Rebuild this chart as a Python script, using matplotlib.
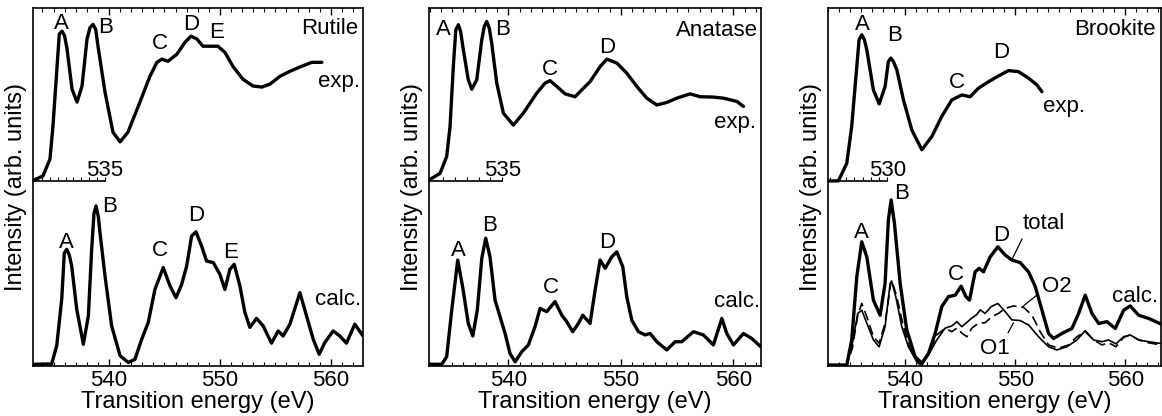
import numpy as np
import matplotlib.pyplot as plt
from matplotlib.ticker import MultipleLocator

plt.rcParams['font.family'] = ['Liberation Sans', 'DejaVu Sans']
plt.rcParams['font.size'] = 16

# energies in eV, intensities in arb. units
rutile_exp_e = [533.1, 534.05, 534.68, 534.95, 535.32, 535.52, 535.77, 536.0, 536.22, 536.67,
                537.12, 537.57, 538.02, 538.29, 538.56, 538.8, 539.01, 539.64, 540.36, 541.0,
                541.71, 542.79, 543.69, 544.32, 544.77, 545.32, 546.13, 546.85, 547.39, 547.93,
                548.47, 549.1, 549.82, 550.45, 551.17, 552.07, 552.97, 553.78, 554.5, 555.41,
                556.31, 557.21, 558.29, 559.19]
rutile_exp_i = [0, 1.4, 6.1, 15.3, 32.0, 41.0, 41.8, 40.5, 36.8, 25.6,
                22.0, 26.5, 39.6, 42.8, 43.7, 42.3, 37.6, 24.8, 13.6, 10.9,
                13.6, 22.0, 29.2, 33.1, 34.0, 33.4, 35.4, 38.7, 40.4, 39.6,
                37.6, 37.6, 37.6, 35.9, 32.0, 28.4, 26.5, 26.2, 27.0, 29.2,
                30.6, 31.8, 33.1, 33.1]
rutile_calc_e = [533.1, 534.83, 535.29, 535.74, 535.97, 536.19, 536.42, 536.64, 537.09, 537.69,
                 538.14, 538.44, 538.65, 538.83, 539.04, 539.19, 539.64, 540.24, 541.0, 541.74,
                 542.34, 542.95, 543.54, 544.14, 544.89, 545.5, 546.04, 546.55, 547.0, 547.45,
                 547.84, 548.35, 548.8, 549.4, 550.0, 550.45, 550.9, 551.29, 551.8, 552.25,
                 552.7, 553.3, 553.9, 554.65, 555.25, 555.7, 556.31, 557.21, 557.81, 558.41,
                 558.95, 559.46, 560.21, 560.81, 561.41, 562.16, 562.9]
rutile_calc_i = [0.5, 0.6, 5.7, 18.7, 31.5, 32.6, 31.0, 27.9, 15.9, 6.1,
                 14.0, 32.6, 42.7, 44.7, 41.7, 37.2, 25.2, 11.2, 2.9, 1.0,
                 1.9, 7.5, 12.2, 21.4, 27.5, 22.4, 19.1, 22.8, 27.9, 36.3,
                 37.5, 33.5, 29.3, 28.9, 25.6, 21.4, 27.0, 28.4, 22.4, 15.0,
                 10.8, 13.3, 11.2, 6.4, 9.8, 8.4, 11.7, 20.5, 14.0, 7.5,
                 3.3, 6.6, 9.8, 8.4, 6.4, 11.7, 8.4]

anatase_exp_e = [532.97, 533.93, 534.52, 534.82, 535.11, 535.33, 535.56, 535.76, 536.0, 536.44,
                 536.75, 537.19, 537.64, 537.86, 538.08, 538.3, 538.52, 538.97, 539.56, 540.44,
                 541.33, 542.52, 543.26, 543.7, 544.3, 545.04, 545.93, 546.52, 547.26, 548.15,
                 548.75, 549.64, 550.52, 551.41, 552.3, 553.19, 554.08, 554.97, 556.15, 557.04,
                 558.22, 559.11, 560.3, 560.89]
anatase_exp_i = [0.3, 2.1, 6.8, 15.2, 31.9, 42.2, 43.6, 41.7, 36.6, 28.2,
                 25.6, 28.2, 39.4, 43.1, 44.5, 42.7, 38.5, 27.3, 18.9, 15.6,
                 18.9, 24.5, 27.3, 28.0, 26.4, 24.3, 23.5, 25.4, 27.7, 31.9,
                 34.0, 32.9, 30.1, 26.4, 23.1, 21.2, 21.9, 23.1, 24.3, 23.5,
                 23.4, 23.1, 22.2, 20.8]
anatase_calc_e = [533.04, 534.08, 534.52, 534.97, 535.5, 535.95, 536.44, 536.84, 537.24, 537.64,
                  537.99, 538.37, 538.82, 539.26, 539.71, 540.15, 540.6, 541.19, 541.78, 542.37,
                  542.82, 543.41, 544.15, 544.75, 545.19, 545.72, 546.22, 546.61, 547.26, 547.71,
                  548.15, 548.6, 549.19, 549.64, 550.17, 550.52, 550.97, 551.56, 552.15, 552.6,
                  553.19, 554.08, 554.82, 555.41, 556.44, 557.33, 558.22, 558.97, 559.41, 560.0,
                  560.89, 561.63, 562.43]
anatase_calc_i = [0.5, 0.5, 2.6, 15.6, 29.6, 21.9, 11.9, 8.4, 15.6, 30.1,
                  35.7, 30.5, 18.4, 13.8, 9.1, 3.5, 1.2, 4.0, 5.9, 11.0,
                  16.1, 15.2, 18.0, 14.2, 12.4, 9.6, 11.9, 14.2, 11.9, 21.2,
                  29.6, 27.3, 30.5, 31.9, 27.7, 19.4, 12.8, 9.6, 8.7, 9.1,
                  6.8, 4.5, 6.8, 6.8, 9.6, 8.7, 5.9, 13.3, 9.1, 5.9,
                  9.1, 7.7, 5.4]

brookite_exp_e = [533.03, 533.94, 534.7, 535.15, 535.61, 535.82, 536.06, 536.3, 536.52, 537.12,
                  537.64, 538.18, 538.48, 538.7, 538.94, 539.25, 539.85, 540.61, 541.52, 542.43,
                  543.33, 544.24, 545.15, 545.91, 546.67, 547.58, 548.48, 549.39, 550.3, 551.21,
                  551.97, 552.43]
brookite_exp_i = [0, 0, 4.9, 15.2, 31.9, 39.4, 40.8, 39.4, 36.6, 25.4,
                  21.5, 26.3, 33.3, 34.3, 33.3, 31.0, 22.6, 14.2, 8.7, 12.4,
                  18.0, 22.6, 24.0, 23.5, 25.9, 27.7, 29.3, 30.8, 30.5, 28.7,
                  26.8, 24.9]
brookite_total_e = [533.03, 534.7, 535.15, 535.61, 536.06, 536.52, 537.12, 537.73, 538.18, 538.48,
                    538.73, 539.03, 539.55, 540.15, 540.91, 541.52, 542.12, 542.73, 543.33, 543.94,
                    544.55, 545.09, 545.52, 545.85, 546.36, 546.73, 547.12, 547.73, 548.42, 549.09,
                    549.7, 550.45, 551.21, 551.82, 552.43, 553.03, 553.48, 554.24, 555.15, 555.76,
                    556.36, 556.97, 557.58, 558.33, 559.09, 559.85, 560.45, 561.21, 562.12, 563.27]
brookite_total_i = [0.3, 0.3, 7.3, 24.9, 34.7, 30.5, 18.4, 14.2, 23.1, 40.8,
                    46.4, 39.9, 23.1, 10.1, 2.6, 0.8, 3.5, 9.1, 16.6, 19.4,
                    19.8, 22.3, 19.4, 18.4, 26.3, 27.3, 26.3, 30.5, 33.3, 31.0,
                    29.6, 28.9, 26.3, 22.2, 15.6, 9.1, 7.7, 9.1, 10.5, 14.7,
                    19.8, 14.7, 11.9, 12.4, 10.5, 15.6, 16.8, 14.2, 13.3, 11.7]
brookite_o1_e = [533.03, 534.7, 535.21, 535.7, 536.06, 536.52, 537.12, 537.64, 538.18, 538.64,
                 538.79, 539.15, 539.7, 540.3, 541.06, 541.52, 542.12, 542.88, 543.64, 544.24,
                 544.7, 545.15, 545.61, 546.06, 546.52, 546.82, 547.27, 547.82, 548.42, 549.09,
                 549.7, 550.45, 551.21, 552.12, 553.03, 553.79, 554.7, 555.61, 556.36, 557.12,
                 557.88, 558.48, 559.15, 559.85, 560.45, 561.21, 562.12, 563.27]
brookite_o1_i = [0.3, 0.3, 6.4, 14.7, 15.6, 12.0, 7.3, 5.4, 11.0, 23.1,
                 23.6, 19.4, 11.0, 5.4, 1.2, 0.3, 3.1, 7.3, 10.6, 11.2,
                 12.4, 11.0, 12.2, 13.4, 14.4, 15.7, 14.7, 16.6, 17.5, 15.2,
                 12.9, 12.7, 11.5, 8.2, 5.4, 4.5, 5.4, 7.3, 9.9, 7.3,
                 6.8, 7.3, 6.2, 8.2, 8.7, 7.3, 6.8, 6.3]
brookite_o2_e = [533.03, 534.7, 535.21, 535.7, 536.06, 536.52, 537.12, 537.64, 538.18, 538.7,
                 538.79, 539.24, 539.85, 540.45, 541.21, 541.52, 542.12, 542.88, 543.64, 544.24,
                 544.7, 545.15, 545.61, 546.06, 546.67, 547.27, 547.88, 548.48, 549.09, 549.85,
                 550.76, 551.52, 552.27, 553.03, 553.94, 554.85, 555.61, 556.36, 557.12, 557.88,
                 558.48, 559.15, 559.85, 560.45, 561.21, 562.12, 563.27]
brookite_o2_i = [0.3, 0.3, 5.0, 14.2, 17.5, 13.8, 8.2, 6.4, 12.0, 23.1,
                 24.0, 19.4, 11.0, 4.9, 0.7, 0.3, 3.5, 8.7, 10.6, 9.6,
                 10.6, 9.2, 8.2, 10.6, 12.0, 12.1, 13.8, 14.7, 16.1, 16.8,
                 16.4, 14.2, 9.6, 5.9, 5.0, 5.9, 8.2, 9.6, 7.3, 5.9,
                 6.5, 5.4, 8.0, 8.7, 7.3, 6.5, 5.9]

exp_offset = 51.7  # exp. spectrum stacked above calc.

fig = plt.figure(figsize=(11.62, 4.16), dpi=100)
lefts = [0.0284, 0.3692, 0.7126]
widths = [0.284, 0.2857, 0.2866]
xlims = [(533.15, 562.9), (532.95, 562.45), (533.0, 563.25)]
# short energy bar of the exp. spectrum: end position, tick step, label
bars = [(539.6, 0.7, '535'), (539.45, 1.05, '535'), (538.4, 0.75, '530')]

axes = []
for i in range(3):
    ax = fig.add_axes([lefts[i], 0.12, widths[i], 0.861])
    ax.set_xlim(*xlims[i])
    ax.set_ylim(0, 100)
    ax.set_yticks([])
    ax.xaxis.set_major_locator(MultipleLocator(10))
    ax.xaxis.set_minor_locator(MultipleLocator(1))
    ax.tick_params(axis='x', which='both', direction='in', top=True, bottom=True,
                   labelsize=16, pad=2.5)
    ax.tick_params(axis='x', which='major', length=5, width=1)
    ax.tick_params(axis='x', which='minor', length=3, width=0.8)
    for s in ax.spines.values():
        s.set_linewidth(1.2)
    ax.set_xlabel('Transition energy (eV)', fontsize=17, labelpad=0.5)
    ax.set_ylabel('Intensity (arb. units)', fontsize=17, labelpad=4)

    end, step, lab = bars[i]
    ins = ax.inset_axes([0, exp_offset / 100, 1, 0.05])
    ins.set_xlim(*xlims[i])
    ins.set_ylim(0, 1)
    ins.patch.set_visible(False)
    for s in ['top', 'left', 'right']:
        ins.spines[s].set_visible(False)
    ins.spines['bottom'].set_bounds(xlims[i][0], end)
    ins.spines['bottom'].set_linewidth(1.2)
    ins.set_xticks(np.arange(end, xlims[i][0], -step))
    ins.set_yticks([])
    ins.tick_params(axis='x', direction='in', length=3, width=0.8, labelbottom=False)
    ins.text(end, 0, lab, ha='center', va='bottom', fontsize=16)
    axes.append(ax)

lw = 2.4
style = dict(color='black', lw=lw, solid_joinstyle='round', solid_capstyle='round')
ax1, ax2, ax3 = axes

# Rutile
ax1.plot(rutile_exp_e, np.array(rutile_exp_i) + exp_offset, **style)
ax1.plot(rutile_calc_e, rutile_calc_i, **style)
for t, x, y in [('A', 535.74, 95.7), ('B', 539.73, 94.6), ('C', 544.57, 90.1),
                ('D', 547.45, 95.5), ('E', 549.7, 93.2),
                ('A', 536.19, 34.5), ('B', 540.06, 44.5), ('C', 544.57, 32.2),
                ('D', 547.82, 42.0), ('E', 550.96, 31.7)]:
    ax1.text(x, y, t, ha='center', va='center')
ax1.text(562.45, 94.3, 'Rutile', ha='right', va='center')
ax1.text(562.6, 79.5, 'exp.', ha='right', va='center')
ax1.text(562.75, 18.5, 'calc.', ha='right', va='center')

# Anatase
ax2.plot(anatase_exp_e, np.array(anatase_exp_i) + exp_offset, **style)
ax2.plot(anatase_calc_e, anatase_calc_i, **style)
for t, x, y in [('A', 534.22, 94.1), ('B', 539.53, 94.1), ('C', 543.71, 82.9),
                ('D', 548.8, 89.0),
                ('A', 535.56, 32.2), ('B', 538.37, 39.2), ('C', 543.81, 21.9),
                ('D', 548.75, 34.5)]:
    ax2.text(x, y, t, ha='center', va='center')
ax2.text(562.2, 93.6, 'Anatase', ha='right', va='center')
ax2.text(562.05, 68.0, 'exp.', ha='right', va='center')
ax2.text(562.35, 18.0, 'calc.', ha='right', va='center')

# Brookite
ax3.plot(brookite_exp_e, np.array(brookite_exp_i) + exp_offset, **style)
ax3.plot(brookite_total_e, brookite_total_i, **style)
ax3.plot(brookite_o1_e, brookite_o1_i, color='black', lw=1.2)
ax3.plot(brookite_o2_e, brookite_o2_i, color='black', lw=1.2, dashes=(6, 3))
for t, x, y in [('A', 536.14, 95.5), ('B', 539.02, 92.2), ('C', 544.74, 79.2),
                ('D', 548.75, 87.6),
                ('A', 536.06, 37.2), ('B', 539.64, 48.3), ('C', 544.58, 25.6),
                ('D', 548.71, 36.4)]:
    ax3.text(x, y, t, ha='center', va='center')
ax3.text(562.75, 93.9, 'Brookite', ha='right', va='center')
ax3.text(552.5, 72.5, 'exp.', ha='left', va='center')
ax3.text(563.0, 19.4, 'calc.', ha='right', va='center')
line = dict(arrowstyle='-', lw=0.9, color='black', shrinkA=2, shrinkB=0)
ax3.annotate('total', xy=(549.76, 30.1), xytext=(552.58, 39.9), ha='center', va='center',
             arrowprops=dict(line, relpos=(0.1, 0.2)))
ax3.annotate('O2', xy=(550.6, 16.4), xytext=(553.79, 22.2), ha='center', va='center',
             arrowprops=dict(line, relpos=(0.0, 0.3)))
ax3.annotate('O1', xy=(549.85, 12.1), xytext=(548.18, 4.9), ha='center', va='center',
             arrowprops=dict(line, relpos=(0.8, 0.9)))

fig.savefig('out.png', dpi=100)
